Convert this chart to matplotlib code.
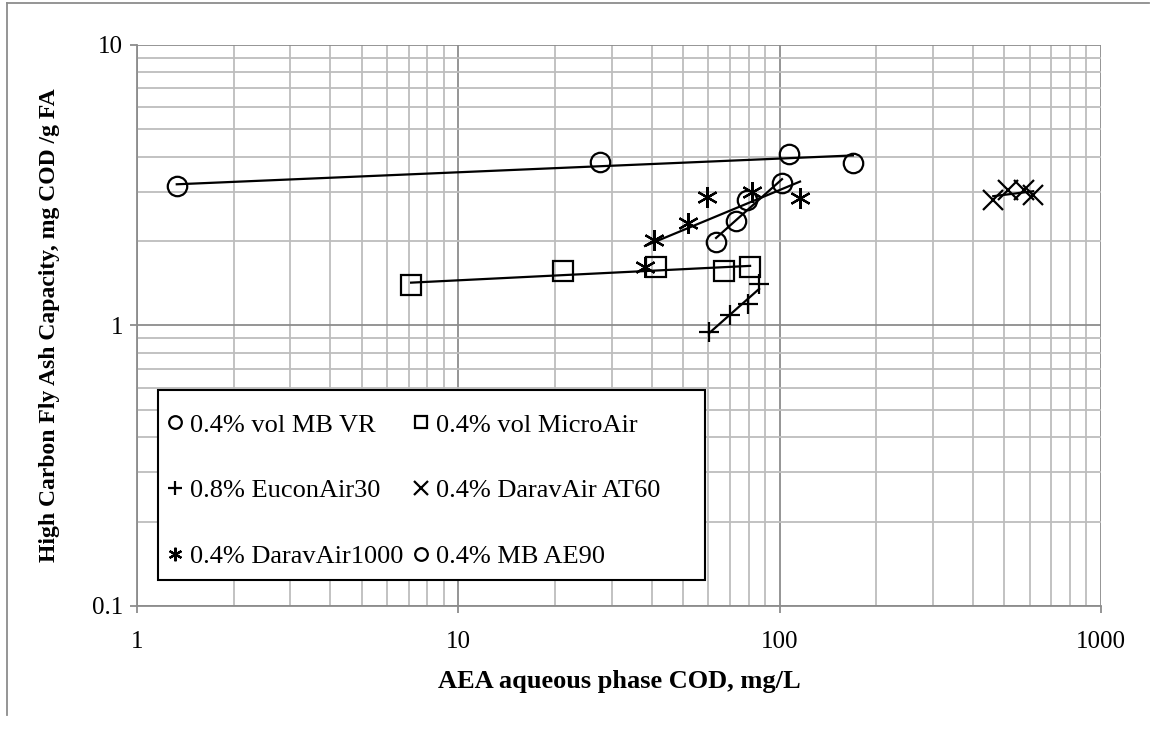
import matplotlib
matplotlib.use("Agg")
from matplotlib import pyplot as plt
from matplotlib.lines import Line2D
from matplotlib.patches import Rectangle
import numpy as np

plt.rcParams["font.family"] = ["Liberation Serif", "DejaVu Serif"]

# data (log-log)
mbvr_x = [1.33, 27.6, 107, 169]
mbvr_y = [3.13, 3.84, 4.10, 3.81]

microair_x = [7.13, 21.2, 41.2, 67.1, 80.9]
microair_y = [1.39, 1.56, 1.61, 1.57, 1.62]

eucon_x = [60.3, 70.1, 79.7, 86.3]
eucon_y = [0.95, 1.09, 1.19, 1.40]

at60_x = [462, 514, 576, 615]
at60_y = [2.81, 3.05, 3.03, 2.93]

d1000_x = [38.1, 40.6, 51.9, 59.4, 82.0, 115.7]
d1000_y = [1.61, 2.01, 2.31, 2.86, 2.98, 2.84]

ae90_x = [63.4, 73.2, 79.2, 101.7]
ae90_y = [1.98, 2.35, 2.79, 3.21]

series = [
    ("0.4% vol MB VR", mbvr_x, mbvr_y, "o"),
    ("0.4% vol MicroAir", microair_x, microair_y, "s"),
    ("0.8% EuconAir30", eucon_x, eucon_y, "+"),
    ("0.4% DaravAir AT60", at60_x, at60_y, "x"),
    ("0.4% DaravAir1000", d1000_x, d1000_y, (6, 2, 0)),
    ("0.4% MB AE90", ae90_x, ae90_y, "o"),
]

fig = plt.figure(figsize=(11.5, 7.3), dpi=100)
ax = fig.add_axes([0.1191, 0.1699, 0.8383, 0.7685])

handles = []
for label, xs, ys, m in series:
    ms = 14 if m in ("o", "s") else 15
    h, = ax.plot(xs, ys, linestyle="none", marker=m, markersize=ms,
                 markerfacecolor="none", markeredgecolor="black",
                 markeredgewidth=1.6, label=label, zorder=3)
    handles.append(h)
    # power trendline
    lx = np.log10(xs)
    k, b = np.polyfit(lx, np.log10(ys), 1)
    xx = np.array([min(lx), max(lx)])
    ax.plot(10 ** xx, 10 ** (k * xx + b), color="black", lw=1.6, zorder=4)

ax.set_xscale("log")
ax.set_yscale("log")
ax.set_xlim(1, 1000)
ax.set_ylim(0.1, 10)

ax.grid(which="major", color="#8c8c8c", lw=1.3)
ax.grid(which="minor", color="#bdbdbd", lw=1.3)
ax.set_axisbelow(True)
for s in ["top", "right"]:
    ax.spines[s].set_visible(False)
for s in ["left", "bottom"]:
    ax.spines[s].set_color("#8c8c8c")
    ax.spines[s].set_linewidth(1.3)

ax.set_xticks([1, 10, 100, 1000])
ax.set_xticklabels(["1", "10", "100", "1000"])
ax.set_yticks([0.1, 1, 10])
ax.set_yticklabels(["0.1", "1", "10"])
ax.tick_params(which="major", length=5, width=1.3, color="#8c8c8c",
               labelsize=18, pad=5)
ax.tick_params(axis="x", which="major", pad=13)
ax.tick_params(which="minor", length=0)

ax.set_xlabel("AEA aqueous phase COD, mg/L", fontsize=19, fontweight="bold",
              labelpad=12)
ax.set_ylabel("High Carbon Fly Ash Capacity, mg COD /g FA", fontsize=17,
              fontweight="bold", labelpad=23)

# legend box
ax.add_patch(Rectangle((0.0218, 0.0463), 0.567, 0.3387, transform=ax.transAxes,
                       facecolor="white", edgecolor="black", lw=1.5, zorder=5))
# row-major order for two columns
order = [0, 2, 4, 1, 3, 5]
leg = ax.legend([handles[i] for i in order], [series[i][0] for i in order],
                loc="upper left", bbox_to_anchor=(0.0218, 0.360),
                ncol=2, fontsize=19, markerscale=0.65,
                handlelength=0.6, handletextpad=0.25, labelspacing=1.6,
                columnspacing=0.4, borderpad=0.35, frameon=False,
                borderaxespad=0)
leg.set_zorder(6)

# outer chart frame
fig.add_artist(Line2D([0.006, 0.006], [0.02, 0.996], color="#8c8c8c", lw=1.3))
fig.add_artist(Line2D([0.006, 0.999], [0.996, 0.996], color="#8c8c8c", lw=1.3))

fig.savefig("out.png", dpi=100)
